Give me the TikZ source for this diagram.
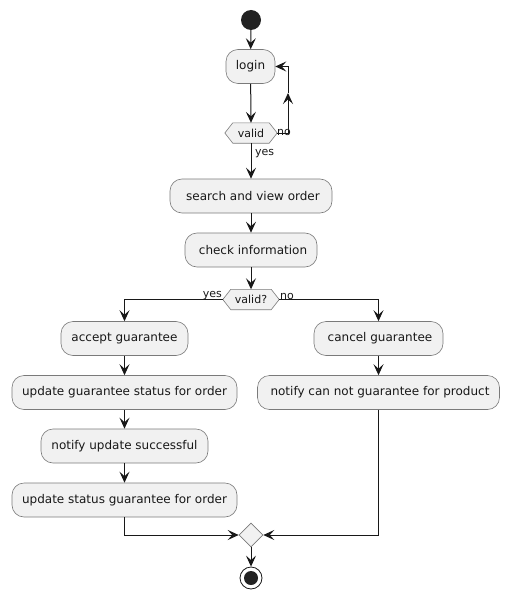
\documentclass[tikz,border=0pt]{standalone}
\usepackage{fontspec}
\setmainfont{DejaVu Sans}
\usetikzlibrary{arrows.meta,calc,shapes.geometric}
\definecolor{boxfill}{HTML}{F1F1F1}
\definecolor{ln}{HTML}{181818}
\definecolor{bd}{HTML}{7A7A7A}
\definecolor{dot}{HTML}{222222}
\tikzset{
  act/.style={draw=bd, line width=0.6pt, fill=boxfill, rounded corners=12pt,
    minimum height=34pt, inner sep=0pt, font=\fontsize{12}{14}\selectfont, text=ln},
  hexbox/.style={draw=none, minimum height=20pt, inner sep=0pt,
    font=\fontsize{11}{13}\selectfont, text=ln},
  hexline/.style={draw=bd, line width=0.6pt, fill=boxfill},
  flow/.style={draw=ln, line width=1pt, -{Stealth[length=11pt,width=10pt,inset=4.5pt]}},
  lbl/.style={font=\fontsize{11}{13}\selectfont, text=ln, inner sep=0pt},
}
\begin{document}
\begin{tikzpicture}[x=1pt,y=-1pt]
\useasboundingbox (0,0) rectangle (509,599);

% start
\node[circle, fill=dot, minimum size=20pt, inner sep=0pt] (start) at (251,20) {};

% login
\node[act, minimum width=49pt] (login) at (250.5,66.5) {login};

% valid hexagon
\node[hexbox, minimum width=36pt] (v1) at (251,133) {valid};
\coordinate (v1w) at ($(v1.west)+(-8,0)$);
\coordinate (v1e) at ($(v1.east)+(8,0)$);
\draw[hexline] (v1.north west) -- (v1.north east) -- (v1e) -- (v1.south east)
  -- (v1.south west) -- (v1w) -- cycle;
\node[hexbox] at (v1) {valid};

\node[act, minimum width=162pt] (search) at (251,196) {\hspace{4pt}search and view order};
\node[act, minimum width=132pt] (check) at (251,250) {\hspace{4pt}check information};

% valid? hexagon
\node[hexbox, minimum width=40pt] (v2) at (251,299.5) {valid?};
\coordinate (v2w) at ($(v2.west)+(-8,0)$);
\coordinate (v2e) at ($(v2.east)+(8,0)$);
\draw[hexline] (v2.north west) -- (v2.north east) -- (v2e) -- (v2.south east)
  -- (v2.south west) -- (v2w) -- cycle;
\node[hexbox] at (v2) {valid?};

% left branch
\node[act, minimum width=127pt] (accept) at (124.5,338.5) {accept guarantee};
\node[act, minimum width=225pt] (upd1) at (124.5,392.5) {update guarantee status for order};
\node[act, minimum width=167pt] (notok) at (124.5,446) {notify update successful};
\node[act, minimum width=225pt] (upd2) at (124.5,500) {update status guarantee for order};

% right branch
\node[act, minimum width=129pt] (cancel) at (378.5,338.5) {\hspace{3pt}cancel guarantee};
\node[act, minimum width=242pt] (notc) at (378.5,392.5) {\hspace{3pt}notify can not guarantee for product};

% merge
\node[diamond, draw=bd, line width=0.6pt, fill=boxfill, minimum width=24pt,
  minimum height=24pt, inner sep=0pt] (merge) at (251,535) {};

% end
\node[circle, draw=ln, line width=0.8pt, fill=white, minimum size=22pt, inner sep=0pt] (stop) at (251,578) {};
\node[circle, fill=dot, minimum size=14pt, inner sep=0pt] (stopin) at (251,578) {};

% connectors
\draw[flow] (start) -- (login);
\draw[flow] (login) -- (v1.north);
\coordinate (lp) at (288,93);
\draw[flow] (v1e) -| (lp);
\draw[flow] (lp) |- (login.east);
\node[lbl, anchor=south west] (nolbl1) at (277,136) {no};
\draw[flow] (v1.south) -- (search.north);
\node[lbl, anchor=west] (yeslbl1) at (255,154) {yes};
\draw[flow] (search) -- (check);
\draw[flow] (check) -- (v2.north);
\draw[flow] (v2w) -| (accept.north);
\draw[flow] (v2e) -| (cancel.north);
\node[lbl, anchor=south east] (yeslbl2) at (222,300) {yes};
\node[lbl, anchor=south west] (nolbl2) at (280,300) {no};
\draw[flow] (accept) -- (upd1);
\draw[flow] (upd1) -- (notok);
\draw[flow] (notok) -- (upd2);
\draw[flow] (cancel) -- (notc);
\draw[flow] (upd2.south) |- (merge.west);
\draw[flow] (notc.south) |- (merge.east);
\draw[flow] (merge) -- (stop);
\end{tikzpicture}
\end{document}
